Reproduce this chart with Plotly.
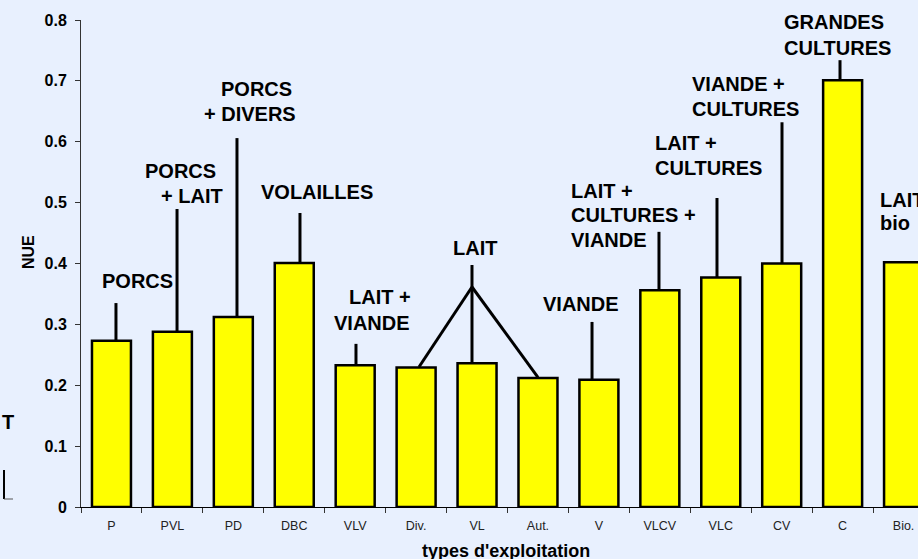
import plotly.graph_objects as go

# ---------------- data ----------------
categories = ["P", "PVL", "PD", "DBC", "VLV", "Div.", "VL", "Aut.", "V",
              "VLCV", "VLC", "CV", "C", "Bio."]
nue = [0.273, 0.288, 0.312, 0.401, 0.233, 0.229, 0.236, 0.212, 0.209,
       0.356, 0.377, 0.400, 0.701, 0.402]
y_tick_values = [0, 0.1, 0.2, 0.3, 0.4, 0.5, 0.6, 0.7, 0.8]
y_tick_labels = ["0", "0.1", "0.2", "0.3", "0.4", "0.5", "0.6", "0.7", "0.8"]
x_title = "types d'exploitation"
y_title = "NUE"

# leader lines: (bar index, x position in category units, top value)
leader_bar = [0, 1, 2, 3, 4, 6, 8, 9, 10, 11, 12]
leader_x = [0.074, 1.076, 2.06, 3.094, 4.013, 5.917, 7.887, 8.986, 9.938, 11.005, 11.957]
leader_top = [0.335, 0.4895, 0.606, 0.483, 0.268, 0.3975, 0.304, 0.452, 0.5076, 0.632, 0.734]
# LAIT group branches (from junction to Div. and Aut.)
lait_junction = (5.917, 0.3614)
lait_branch_x = [5.047, 7.0]
lait_branch_bar = [5, 7]

# group labels: (text, x pixel, y pixel, anchor)
labels = [
    ("PORCS", 137, 281, "center"),
    ("PORCS", 218, 171, "right"),
    ("+ LAIT", 225, 196, "right"),
    ("PORCS", 256, 89, "center"),
    ("+ DIVERS", 250, 114, "center"),
    ("VOLAILLES", 317, 192, "center"),
    ("LAIT +", 413, 297, "right"),
    ("VIANDE", 412, 323, "right"),
    ("LAIT", 475, 248, "center"),
    ("VIANDE", 581, 304, "center"),
    ("LAIT +", 569, 191, "left"),
    ("CULTURES +", 569, 215, "left"),
    ("VIANDE", 569, 240, "left"),
    ("LAIT +", 653, 143, "left"),
    ("CULTURES", 653, 168, "left"),
    ("VIANDE +", 690, 84, "left"),
    ("CULTURES", 690, 109, "left"),
    ("GRANDES", 782, 22, "left"),
    ("CULTURES", 782, 48, "left"),
    ("LAIT", 878, 200, "left"),
    ("bio", 878, 223, "left"),
    ("T", 0, 422, "left"),   # remnant of neighbouring chart
]

# ---------------- layout geometry ----------------
W, H = 918, 559
ML, MT, MR, MB = 81, 20, 0, 52
PW, PH = W - ML - MR, H - MT - MB
CAT_PX = 60.93
x_max = -0.5 + PW / CAT_PX

def px(x):
    return (x - ML) / PW

def py(y):
    return (H - MB - y) / PH

BG = "#E8F0FE"
FONT = "Liberation Sans, Arial, sans-serif"

fig = go.Figure()
fig.add_trace(go.Bar(
    x=categories, y=nue,
    marker=dict(color="#FFFF00", line=dict(color="#000000", width=2.5)),
    hoverinfo="skip",
))

shapes = []
for b, xv, top in zip(leader_bar, leader_x, leader_top):
    shapes.append(dict(type="line", xref="x", yref="y", x0=xv, x1=xv,
                       y0=nue[b], y1=top, line=dict(color="black", width=3)))
for bx, b in zip(lait_branch_x, lait_branch_bar):
    shapes.append(dict(type="line", xref="x", yref="y",
                       x0=lait_junction[0], y0=lait_junction[1],
                       x1=bx, y1=nue[b] + 0.001, line=dict(color="black", width=3)))
# remnant of neighbouring chart on the left
shapes.append(dict(type="line", xref="paper", yref="paper", x0=px(4), x1=px(4),
                   y0=py(470), y1=py(499), line=dict(color="black", width=2)))
shapes.append(dict(type="line", xref="paper", yref="paper", x0=px(4), x1=px(13),
                   y0=py(499), y1=py(499), line=dict(color="#555555", width=1)))

annotations = []
for text, x, y, anc in labels:
    annotations.append(dict(text="<b>%s</b>" % text, xref="paper", yref="paper",
                            x=px(x), y=py(y), xanchor=anc, yanchor="middle",
                            showarrow=False,
                            font=dict(family=FONT, size=20, color="black")))
annotations.append(dict(text="<b>%s</b>" % x_title, xref="paper", yref="paper",
                        x=px(506), y=py(551), xanchor="center", yanchor="middle",
                        showarrow=False, font=dict(family=FONT, size=18, color="black")))
annotations.append(dict(text="<b>%s</b>" % y_title, xref="paper", yref="paper",
                        x=px(29), y=py(252), xanchor="center", yanchor="middle",
                        textangle=-90, showarrow=False,
                        font=dict(family=FONT, size=16, color="black")))

fig.update_layout(
    width=W, height=H,
    margin=dict(l=ML, r=MR, t=MT, b=MB, pad=0),
    paper_bgcolor=BG, plot_bgcolor=BG,
    showlegend=False,
    bargap=0.36,
    shapes=shapes,
    annotations=annotations,
    font=dict(family=FONT, color="black"),
    xaxis=dict(
        type="category", range=[-0.5, x_max], tickson="boundaries",
        ticks="outside", ticklen=5, tickcolor="#333333", tickwidth=1,
        showline=True, linecolor="#000000", linewidth=1,
        showgrid=False, zeroline=False,
        tickfont=dict(family=FONT, size=12.5, color="#222222"),
        ticklabelstandoff=7,
        fixedrange=True,
    ),
    yaxis=dict(
        range=[0, 0.8], tickvals=y_tick_values, ticktext=["<b>%s</b>" % t for t in y_tick_labels],
        ticks="outside", ticklen=5, tickcolor="#333333", tickwidth=1,
        showline=True, linecolor="#333333", linewidth=1,
        showgrid=False, zeroline=False,
        tickfont=dict(family=FONT, size=16, color="black"),
        ticklabelstandoff=5,
        fixedrange=True,
    ),
)

fig.write_html("out.html", config={"displayModeBar": False},
               post_script="document.body.style.margin='0px';document.body.style.overflow='hidden';")
